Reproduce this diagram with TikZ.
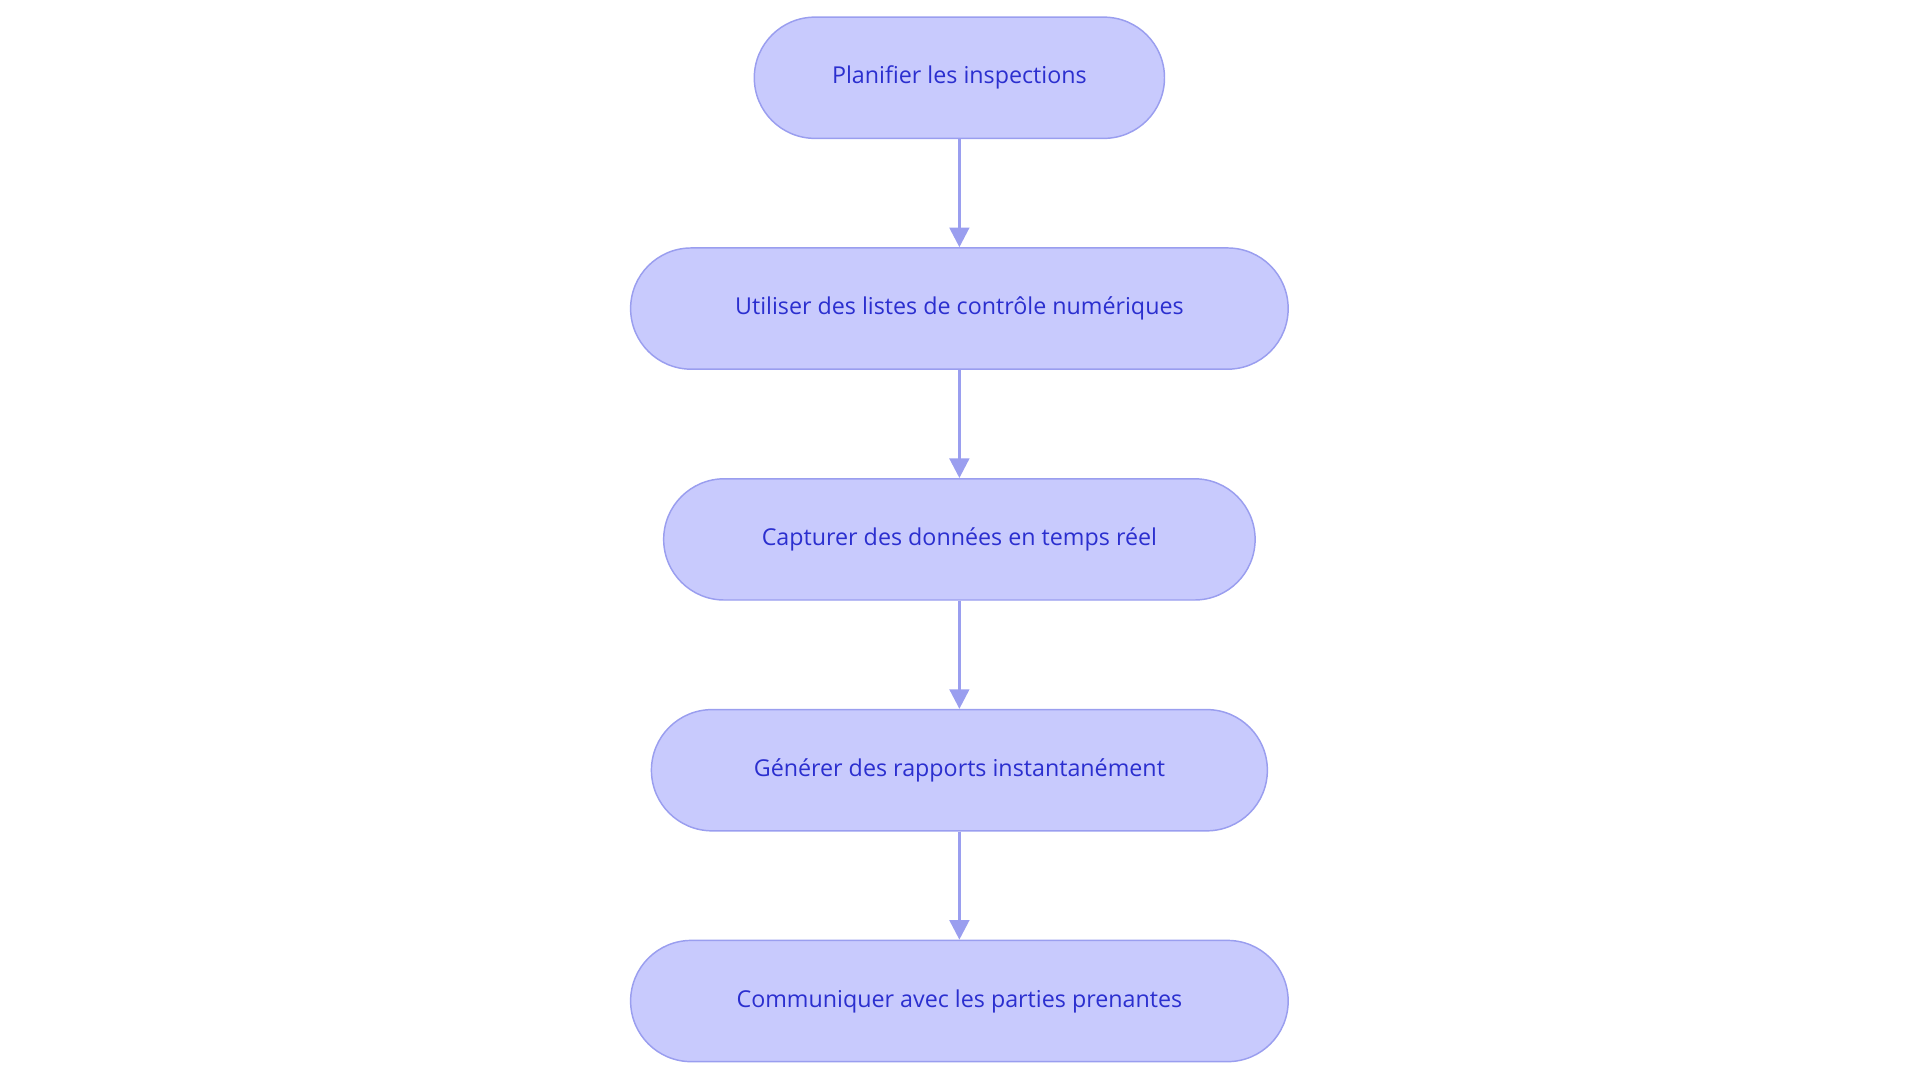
\documentclass[tikz,border=0pt]{standalone}
\usepackage{fontspec}
\setmainfont{Open Sans}
\usetikzlibrary{arrows.meta}
\definecolor{fillc}{HTML}{C8CAFD}
\definecolor{linec}{HTML}{9A9EEF}
\definecolor{textc}{HTML}{2B2FCF}
\begin{document}
\begin{tikzpicture}[x=1pt,y=-1pt,
  pill/.style={draw=linec,line width=1.2pt,fill=fillc,rounded corners=49.5pt,minimum height=99pt,text=textc,font=\fontsize{19}{22}\selectfont,inner sep=0pt},
  conn/.style={draw=linec,line width=2.4pt,-{Triangle[length=16pt,width=16pt]}}]
\useasboundingbox (0,0) rectangle (1568,884);
\node[pill,minimum width=335pt] (a) at (783.5,63.5) {Planifier les inspections};
\node[pill,minimum width=537pt] (b) at (783.5,252) {Utiliser des listes de contrôle numériques};
\node[pill,minimum width=483pt] (c) at (783.5,440.5) {Capturer des données en temps réel};
\node[pill,minimum width=503pt] (d) at (783.5,629) {Générer des rapports instantanément};
\node[pill,minimum width=537pt] (e) at (783.5,817.5) {Communiquer avec les parties prenantes};
\draw[conn] (a) -- (b);
\draw[conn] (b) -- (c);
\draw[conn] (c) -- (d);
\draw[conn] (d) -- (e);
\end{tikzpicture}
\end{document}
